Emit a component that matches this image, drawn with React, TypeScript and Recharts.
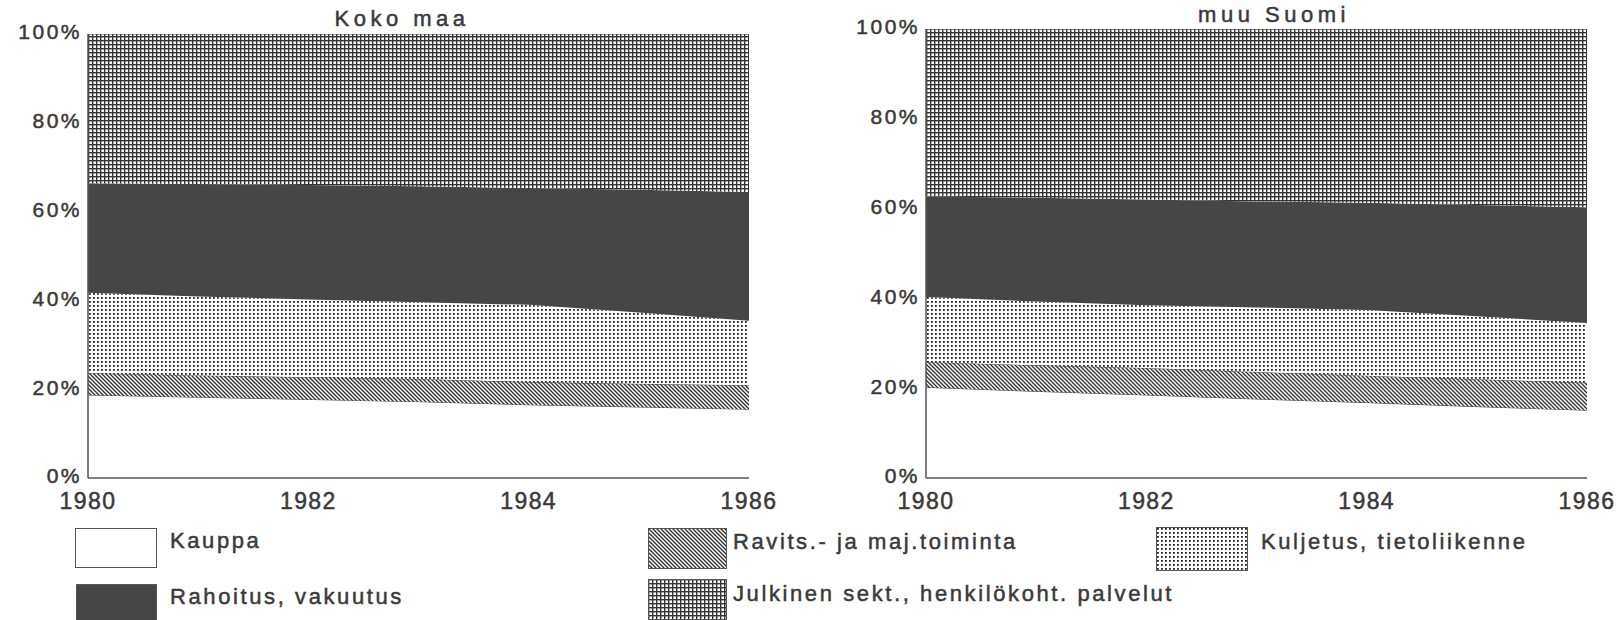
import { AreaChart, Area, XAxis, YAxis } from 'recharts'

const years = [1980, 1981, 1982, 1983, 1984, 1985, 1986]
const yearTicks = [1980, 1982, 1984, 1986]
const pctTicks = [0, 20, 40, 60, 80, 100]

// Koko maa, osuus (%) palveluista
const kokoKauppa = [18.7, 18.2, 17.7, 17.2, 16.5, 16.0, 15.5]
const kokoRavits = [4.9, 4.9, 5.0, 5.1, 5.1, 5.2, 5.4]
const kokoKuljetus = [18.1, 17.8, 17.5, 17.3, 17.4, 16.1, 14.5]
const kokoRahoitus = [24.7, 25.3, 25.8, 26.1, 26.3, 27.6, 29.0]
const kokoJulkinen = [33.6, 33.8, 34.0, 34.3, 34.7, 35.1, 35.6]

// muu Suomi
const muuKauppa = [20.2, 19.3, 18.5, 17.6, 16.8, 15.9, 15.1]
const muuRavits = [5.6, 5.8, 6.0, 6.0, 6.0, 6.1, 6.1]
const muuKuljetus = [14.5, 14.2, 14.0, 14.4, 14.6, 14.0, 13.3]
const muuRahoitus = [22.4, 23.1, 23.5, 23.6, 23.9, 24.8, 25.8]
const muuJulkinen = [37.3, 37.6, 38.0, 38.4, 38.7, 39.2, 39.7]

const seriesNames = [
  'Kauppa',
  'Ravits.- ja maj.toiminta',
  'Kuljetus, tietoliikenne',
  'Rahoitus, vakuutus',
  'Julkinen sekt., henkilökoht. palvelut',
]
const keys = ['kauppa', 'ravits', 'kuljetus', 'rahoitus', 'julkinen']

const font = '"Liberation Sans", Arial, sans-serif'
const ink = '#3a3a3a'

const build = (cols: number[][]) =>
  years.map((year, i) => {
    const row: Record<string, number> = { year }
    keys.forEach((k, j) => (row[k] = cols[j][i]))
    return row
  })

const kokoData = build([kokoKauppa, kokoRavits, kokoKuljetus, kokoRahoitus, kokoJulkinen])
const muuData = build([muuKauppa, muuRavits, muuKuljetus, muuRahoitus, muuJulkinen])

function Patterns({ p }: { p: string }) {
  return (
    <defs>
      <pattern id={`${p}-grid`} width="4" height="4" patternUnits="userSpaceOnUse">
        <rect width="4" height="4" fill="#fff" />
        <rect width="4" height="1.4" fill="#333" />
        <rect width="1.4" height="4" fill="#333" />
      </pattern>
      <pattern id={`${p}-dots`} width="4" height="4" patternUnits="userSpaceOnUse">
        <rect width="4" height="4" fill="#fff" />
        <rect x="1" y="1" width="1.8" height="1.8" fill="#222" />
      </pattern>
      <pattern id={`${p}-hatch`} width="4" height="4" patternUnits="userSpaceOnUse">
        <rect width="4" height="4" fill="#fff" />
        <path d="M-1,-1 L5,5 M-1,3 L1,5 M3,-1 L5,1" stroke="#333" strokeWidth="1.4" />
      </pattern>
    </defs>
  )
}

const fills = (p: string) => ['#ffffff', `url(#${p}-hatch)`, `url(#${p}-dots)`, '#464646', `url(#${p}-grid)`]
const strokes = ['#444', '#444', 'none', 'none', '#555']

function Panel({ data, p, left, top }: { data: Record<string, number>[]; p: string; left: number; top: number }) {
  const f = fills(p)
  return (
    <div style={{ position: 'absolute', left, top: 0 }}>
      <AreaChart width={780} height={520} data={data} margin={{ top, right: 31, bottom: 0, left: 0 }}>
        <Patterns p={p} />
        <XAxis
          dataKey="year"
          type="number"
          domain={[1980, 1986]}
          ticks={yearTicks}
          height={42}
          tickLine={false}
          tickSize={6}
          tickMargin={9}
          axisLine={{ stroke: '#555', strokeWidth: 1.5 }}
          tick={{ fill: ink, fontSize: 23, fontFamily: font, letterSpacing: 1.4, stroke: ink, strokeWidth: 0.5 }}
        />
        <YAxis
          domain={[0, 100]}
          ticks={pctTicks}
          width={88}
          tickLine={false}
          tickSize={4}
          tickMargin={2}
          tickFormatter={(v) => `${v}%`}
          axisLine={{ stroke: '#555', strokeWidth: 1.5 }}
          tick={{ fill: ink, fontSize: 21, fontFamily: font, letterSpacing: 2.5, stroke: ink, strokeWidth: 0.5, dy: -2 }}
          allowDataOverflow
        />
        <YAxis
          yAxisId="r"
          orientation="right"
          domain={[0, 100]}
          width={0}
          tick={false}
          tickLine={false}
          axisLine={{ stroke: '#555', strokeWidth: 1.5 }}
        />
        {keys.map((k, i) => (
          <Area
            key={k}
            type="linear"
            dataKey={k}
            name={seriesNames[i]}
            stackId="1"
            fill={f[i]}
            fillOpacity={1}
            stroke={strokes[i]}
            strokeWidth={1}
            isAnimationActive={false}
            dot={false}
            activeDot={false}
          />
        ))}
      </AreaChart>
    </div>
  )
}

// legend placement: [box x, box y, box w, box h, text center y]
const legendPos = [
  [75, 528, 82, 40, 541],
  [648, 528, 79, 41, 542],
  [1156, 527, 92, 44, 542],
  [76, 584, 81, 40, 597],
  [648, 579, 79, 41, 594],
]

function LegendItem({ i }: { i: number }) {
  const [x, y, w, h, cy] = legendPos[i]
  const f = fills('lg')[i]
  return (
    <>
      <svg style={{ position: 'absolute', left: x, top: y }} width={w} height={h}>
        <Patterns p="lg" />
        <rect x={0.5} y={0.5} width={w - 1} height={h - 1} fill={f} stroke="#555" strokeWidth={1} />
      </svg>
      <div
        style={{
          position: 'absolute',
          left: x + w + (i === 1 || i === 4 ? 6 : 13),
          top: cy - 11,
          fontSize: 22,
          lineHeight: '22px',
          fontFamily: font,
          color: ink,
          letterSpacing: 2.6,
          whiteSpace: 'nowrap',
          WebkitTextStroke: '0.5px #3a3a3a',
        }}
      >
        {seriesNames[i]}
      </div>
    </>
  )
}

const titleStyle = {
  position: 'absolute' as const,
  fontSize: 22,
  lineHeight: '22px',
  fontFamily: font,
  color: ink,
  letterSpacing: 4.5,
  whiteSpace: 'nowrap' as const,
  transform: 'translateX(-50%)',
  WebkitTextStroke: '0.5px #3a3a3a',
}

export default function App() {
  return (
    <div style={{ position: 'absolute', left: 0, top: 0, width: 1621, height: 620, background: '#fff', overflow: 'hidden' }}>
      <Panel data={kokoData} p="koko" left={0} top={34} />
      <Panel data={muuData} p="muu" left={838} top={29} />
      <div style={{ ...titleStyle, left: 402, top: 8 }}>Koko maa</div>
      <div style={{ ...titleStyle, left: 1274, top: 4 }}>muu Suomi</div>
      {seriesNames.map((_, i) => (
        <LegendItem key={i} i={i} />
      ))}
    </div>
  )
}
